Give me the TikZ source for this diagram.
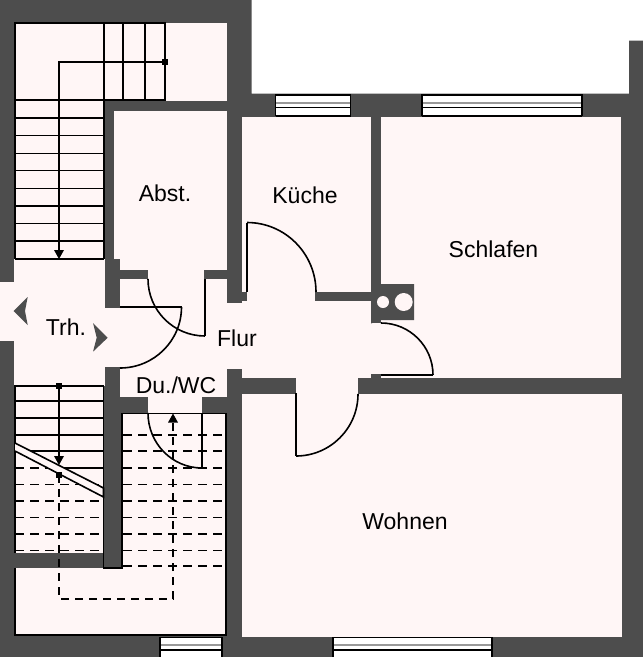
\documentclass[tikz,border=0pt]{standalone}
\usepackage{fontspec}
\setmainfont{Liberation Sans}
\usetikzlibrary{calc}
\definecolor{wallc}{HTML}{4D4D4D}
\definecolor{roomc}{HTML}{FFF6F6}
\tikzset{
  x=1pt,y=-1pt,
  wall/.style={fill=wallc,draw=none},
  room/.style={fill=roomc,draw=none},
  ln/.style={draw=black,line width=1.6pt},
  thin ln/.style={draw=black,line width=1.4pt},
  dsh/.style={draw=black,line width=1.5pt,dash pattern=on 9pt off 6pt},
  dshv/.style={draw=black,line width=1.4pt,dash pattern=on 8pt off 6pt},
  door/.style={draw=black,line width=1.6pt},
  label/.style={font=\fontsize{23}{25}\selectfont,text=black,inner sep=0pt},
}
\newcommand{\qarc}[3]{\draw[door] (#1) .. controls ($(#1)!.5523!(#2)$) and ($(#3)!.5523!(#2)$) .. (#3);}
\newcommand{\winpane}[4]{%
  \fill[white] (#1,#2) rectangle (#3,#4);
  \draw[draw=gray!80,line width=1.4pt] (#1,#2+8) -- (#3,#2+8);
  \draw[draw=black,line width=1.2pt] (#1,#2+12.5) -- (#3,#2+12.5);
  \draw[draw=black,line width=1.5pt] (#1,#4) -- (#1,#2) -- (#3,#2) -- (#3,#4);
}
\begin{document}
\begin{tikzpicture}
\useasboundingbox (0,0) rectangle (643,657);
% shell
\fill[wall] (0,0) -- (251.5,0) -- (251.5,93.5) -- (629,93.5) -- (629,40.5) -- (643,40.5) -- (643,657) -- (0,657) -- cycle;
% rooms
\foreach \a/\b/\c/\d in {
  15/22.5/227/101, 15/101/103.5/259, 13.5/259/105/386, 0/282/14/341,
  105/308/120/367, 120/279/227/397, 227/303/242/369,
  242/117/371/378, 371/323/381/378, 380.7/117/621/378,
  148/397/202/414, 122/413.5/226/568, 15/386/103.5/553, 15/568/226/635,
  242/394/622/636.5, 296/378/358/394, 114/111/227/270, 148/270/204/279}
  {\fill[room] (\a,\b) rectangle (\c,\d);}
% wall pieces over the rooms
\fill[wall] (13.5,553) rectangle (103.5,568);
\fill[wall] (315,292) rectangle (371,301);
\fill[wall] (242,292) rectangle (247,301);
\fill[wall] (371,374) rectangle (381,378);
\fill[wall] (371,284) -- (414,284) -- (414,320) -- (381,320) -- (371,323.5) -- cycle;
\fill[wall] (105,259) rectangle (120,308);
\fill[wall] (114,270) rectangle (148,279);
\fill[wall] (204,270) rectangle (227,279);
\fill[room] (383,302) circle[radius=6];
\fill[room] (403.7,302) circle[radius=9];
% Trh arrows
\fill[wall] (13.5,311) -- (27.7,297) -- (25,311) -- (27.7,325) -- cycle;
\fill[wall] (107.7,337.7) -- (93,323) -- (96.7,337.7) -- (93,351.7) -- cycle;
% windows
\winpane{275.5}{95}{350.5}{116}
\draw[black,line width=1.5pt] (275.5,116) -- (350.5,116);
\winpane{422}{95}{582}{116}
\draw[black,line width=1.5pt] (422,116) -- (582,116);
\fill[white] (160,637.5) rectangle (222,657);
\draw[draw=gray!80,line width=1.6pt] (160,645) -- (222,645);
\draw[black,line width=1.2pt] (160,650) -- (222,650);
\draw[black,line width=1.2pt] (160,657) -- (160,637.5) -- (222,637.5) -- (222,657);
\fill[white] (333,637.5) rectangle (492,657);
\draw[draw=gray!80,line width=1.6pt] (333,645) -- (492,645);
\draw[black,line width=1.2pt] (333,650) -- (492,650);
\draw[black,line width=1.2pt] (333,657) -- (333,637.5) -- (492,637.5) -- (492,657);
% upper stairs
\draw[ln] (15,259) -- (15,23) -- (165,23) -- (165,100) -- (15,100);
\foreach \vx in {104,122.7,145} {\draw[ln] (\vx,23) -- (\vx,100);}
\draw[ln] (103.7,100) -- (103.7,259);
\foreach \hy in {118,135.7,153.3,170.7,188.3,206,223.3,241,259} {\draw[thin ln] (15,\hy) -- (103.7,\hy);}
\draw[ln] (165,62) -- (59,62) -- (59,252);
\fill[black] (162,59) rectangle (168,65);
\fill[black] (54,250) -- (64,250) -- (59,259) -- cycle;
% lower stairs
\draw[ln] (15,553) -- (15,386) -- (103.5,386) -- (103.5,568) -- (122,568) -- (122,413.5) -- (226,413.5) -- (226,635) -- (15,635) -- (15,568);
\foreach \hy in {401,418,435,451} {\draw[thin ln] (15,\hy) -- (103.5,\hy);}
\draw[thin ln] (64,468) -- (103.5,468);
\draw[dsh] (15,468) -- (60,468);
\foreach \hy in {484.3,501,517.3,534,550.7} {\draw[dsh] (15,\hy) -- (103.5,\hy);}
\foreach \hy in {435,451,468,484.3,501,517.3,534,550.7,566} {\draw[dsh] (123,\hy) -- (226,\hy);}
% break line
\fill[room] (15,443) -- (103.5,488) -- (103.5,497) -- (15,451) -- cycle;
\draw[ln] (15,443) -- (103.5,488) -- (103.5,497) -- (15,451);
% walk lines
\draw[ln] (59,386) -- (59,458);
\fill[black] (56,383) rectangle (62,389);
\fill[black] (54,456) -- (64,456) -- (59,465) -- cycle;
\fill[black] (56,472) rectangle (62,478);
\draw[dshv] (59,475) -- (59,599) -- (173,599) -- (173,422);
\fill[black] (168,422.5) -- (178,422.5) -- (173,413.5) -- cycle;
% doors
\draw[door] (247,292) -- (247,222.5);
\qarc{247,222.5}{316,222.5}{316,292}
\draw[door] (296,393) -- (296,456);
\qarc{296,456}{358,456}{358,394}
\draw[door] (381,375) -- (433,375);
\qarc{381,323}{433,323}{433,375}
\draw[door] (205,279) -- (205,336);
\qarc{148,279}{148,336}{205,336}
\draw[door] (120,307) -- (181.5,307);
\qarc{181.5,307}{181.5,368}{120,368}
\draw[door] (202,413) -- (202,468);
\qarc{148,413}{148,468}{202,468}
% labels
\node[label] (abst) at (165,193) {Abst.};
\node[label] (kueche) at (305,195.5) {Küche};
\node[label] (schlafen) at (493.5,249) {Schlafen};
\node[label] (flur) at (237,338) {Flur};
\node[label] (trh) at (66,327) {Trh.};
\node[label] (duwc) at (176,385) {Du./WC};
\node[label] (wohnen) at (405,521) {Wohnen};
\end{tikzpicture}
\end{document}
